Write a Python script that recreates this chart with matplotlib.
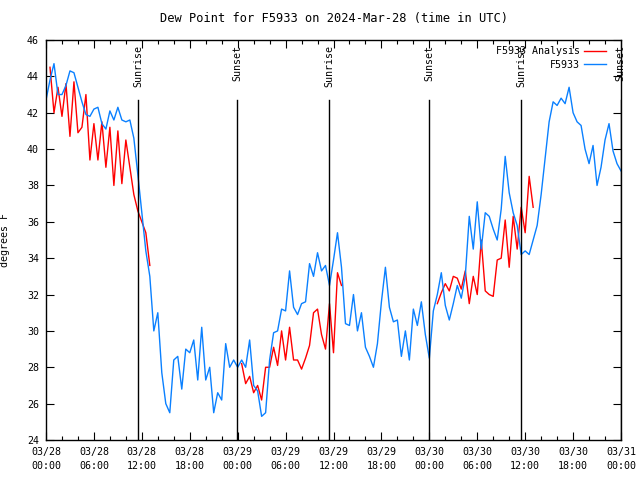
import matplotlib
matplotlib.use('Agg')
import matplotlib.pyplot as plt
import matplotlib.dates as mdates
import numpy as np
import pandas as pd

nan = np.nan

# 30-minute samples, 03/28 00:00 -> 03/31 00:00 UTC
times = pd.date_range('2024-03-28 00:00', periods=145, freq='30min')

# F5933 observed dew point (deg F)
f5933 = [
    42.7, 43.8, 44.7, 43.0, 43.0, 43.5, 44.3, 44.2, 43.4, 42.6,
    41.9, 41.8, 42.2, 42.3, 41.4, 41.1, 42.1, 41.6, 42.3, 41.6,
    41.5, 41.6, 40.6, 38.6, 36.5, 34.4, 33.0, 30.0, 31.0, 27.7,
    26.0, 25.5, 28.4, 28.6, 26.8, 29.0, 28.8, 29.5, 27.3, 30.2,
    27.3, 28.0, 25.5, 26.6, 26.2, 29.3, 28.0, 28.4, 28.0, 28.4,
    28.0, 29.5, 27.0, 26.7, 25.3, 25.5, 28.4, 29.9, 30.0, 31.2,
    31.1, 33.3, 31.3, 30.9, 31.5, 31.6, 33.7, 33.0, 34.3, 33.3,
    33.6, 32.5, 33.9, 35.4, 33.5, 30.4, 30.3, 32.0, 30.0, 31.0,
    29.1, 28.6, 28.0, 29.3, 31.6, 33.5, 31.3, 30.5, 30.6, 28.6,
    30.0, 28.4, 31.2, 30.3, 31.6, 29.8, 28.5, 31.1, 32.0, 33.2,
    31.4, 30.6, 31.5, 32.5, 31.8, 33.0, 36.3, 34.5, 37.1, 34.5,
    36.5, 36.3, 35.6, 35.0, 36.7, 39.6, 37.6, 36.5, 35.8, 34.2,
    34.4, 34.2, 35.0, 35.8, 37.5, 39.5, 41.5, 42.6, 42.4, 42.8,
    42.5, 43.4, 42.0, 41.5, 41.3, 40.0, 39.2, 40.2, 38.0, 39.0,
    40.5, 41.4, 39.9, 39.2, 38.8,
]

# F5933 analysis dew point (deg F), gaps where no analysis
analysis_1 = [44.5, 42.0, 43.4, 41.8, 43.6, 40.7, 43.7, 40.9, 41.2,
              43.0, 39.4, 41.4, 39.4, 41.5, 39.0, 41.2, 38.0, 41.0, 38.1,
              40.5, 39.0, 37.5, 36.6, 36.0, 35.4, 33.6]
analysis_2 = [28.2, 27.1, 27.5, 26.6, 27.0, 26.2, 28.0, 28.0, 29.1, 28.1,
              30.0, 28.4, 30.2, 28.4, 28.4, 27.9, 28.5, 29.2, 31.0, 31.2,
              29.8, 29.0, 31.5, 28.8, 33.2, 32.5]
analysis_3 = [31.5, 32.1, 32.6, 32.2, 33.0, 32.9, 32.3, 33.3, 31.5, 33.0,
              32.0, 35.0, 32.2, 32.0, 31.9, 33.9, 34.0, 36.1, 33.5, 36.3,
              34.5, 36.8, 35.4, 38.5, 36.8]
analysis = ([nan] + analysis_1 + [nan] * 22 + analysis_2 + [nan] * 23
            + analysis_3 + [nan] * 22)

event_names = ['Sunrise', 'Sunset', 'Sunrise', 'Sunset', 'Sunrise', 'Sunset']
event_times = pd.to_datetime(['2024-03-28 11:31', '2024-03-28 23:55',
                              '2024-03-29 11:26', '2024-03-29 23:58',
                              '2024-03-30 11:29', '2024-03-30 23:59'])

tick_times = pd.date_range('2024-03-28 00:00', '2024-03-31 00:00', freq='6h')
tick_labels = [t.strftime('%m/%d\n%H:%M') for t in tick_times]

plt.rcParams['font.family'] = 'DejaVu Sans Mono'
plt.rcParams['font.size'] = 7.2

fig = plt.figure(figsize=(6.4, 4.8), dpi=100)
ax = fig.add_axes([46 / 640, 40 / 480, 575 / 640, 400 / 480])

ax.plot(times, analysis, color='#ff0000', lw=1.0, label='F5933 Analysis')
ax.plot(times, f5933, color='#0a80ff', lw=1.0, label='F5933')

for t, name in zip(event_times, event_names):
    ax.plot([t, t], [24, 42.7], color='black', lw=1.0)
    ax.text(t, 45.75, name, rotation=90, ha='center', va='top')

ax.set_xlim(tick_times[0], tick_times[-1])
ax.set_ylim(24, 46)
ax.set_xticks(tick_times)
ax.set_xticklabels(tick_labels, linespacing=1.5)
ax.xaxis.set_minor_locator(mdates.HourLocator(byhour=range(0, 24, 2)))
ax.set_yticks(np.arange(24, 47, 2))
ax.tick_params(which='both', direction='in', top=True, right=True, width=0.8)
ax.tick_params(which='major', length=6, pad=5)
ax.tick_params(which='minor', length=3)

for s in ax.spines.values():
    s.set_linewidth(1.0)

ax.set_title('Dew Point for F5933 on 2024-Mar-28 (time in UTC)', pad=13)
ax.set_ylabel('degrees F', labelpad=12)
ax.legend(loc='upper right', frameon=False, markerfirst=False, handlelength=2.2,
          borderaxespad=0.35, borderpad=0.3, labelspacing=0.35, handletextpad=0.4,
          bbox_to_anchor=(0.985, 1.0))

plt.savefig('out.png', dpi=100)
